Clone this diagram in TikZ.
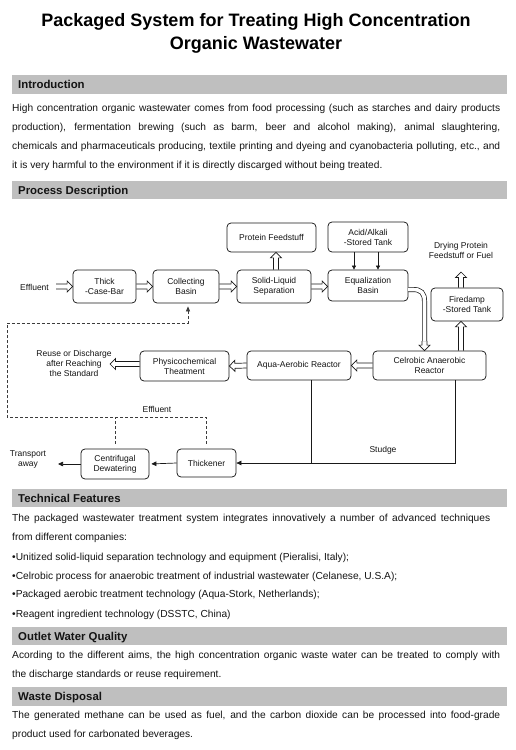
\documentclass[tikz,border=0pt]{standalone}
\usepackage{fontspec}
\setmainfont{Liberation Sans}
\usetikzlibrary{calc,arrows.meta}
\definecolor{hdr}{RGB}{191,191,191}
\definecolor{lc}{RGB}{25,25,25}
\definecolor{tc}{RGB}{20,20,20}
\def\hw{2.5pt}\def\hW{5.5pt}\def\hl{5.5pt}
\begin{document}
\begin{tikzpicture}[x=1pt,y=-1pt,
  box/.style={draw=lc, line width=0.75pt, rounded corners=4pt, align=center, text=tc,
    font=\fontsize{8.5}{10}\selectfont, inner sep=0pt},
  lbl/.style={align=center, text=tc, font=\fontsize{8.5}{10}\selectfont, inner sep=0pt},
  body/.style={anchor=base west, inner sep=0pt, text=tc, font=\fontsize{10.2}{12}\selectfont},
  hdrtxt/.style={anchor=base west, inner sep=0pt, text=tc, font=\bfseries\fontsize{11.4}{13}\selectfont},
  ttl/.style={anchor=base, inner sep=0pt, text=black, font=\bfseries\fontsize{18}{22}\selectfont},
  hollow/.style={draw=lc, line width=0.7pt, to path={
    ($(\tikztostart)!\hw!90:(\tikztotarget)$) --
    ($(\tikztotarget)!\hl!(\tikztostart)!\hw!-90:(\tikztostart)$) --
    ($(\tikztotarget)!\hl!(\tikztostart)!\hW!-90:(\tikztostart)$) --
    (\tikztotarget) --
    ($(\tikztotarget)!\hl!(\tikztostart)!\hW!90:(\tikztostart)$) --
    ($(\tikztotarget)!\hl!(\tikztostart)!\hw!90:(\tikztostart)$) --
    ($(\tikztostart)!\hw!-90:(\tikztotarget)$)}},
  dbl/.style={draw=lc, line width=0.7pt, double=white, double distance=3.6pt},
  ln/.style={draw=lc, line width=0.7pt},
  blk/.style={draw=lc, line width=0.7pt, -{Triangle[length=5pt,width=4.5pt]}},
  sblk/.style={draw=lc, line width=0.7pt, -{Triangle[length=4pt,width=4pt]}},
  dsh/.style={draw=lc!85, line width=0.7pt, dash pattern=on 3pt off 2pt}
]
\useasboundingbox[fill=white] (0,0) rectangle (516,750);

% Title
\node[ttl] (title1) at (256,26.5) {Packaged System for Treating High Concentration};
\node[ttl] (title2) at (256,49.5) {Organic Wastewater};

% Section bars
\fill[hdr] (12,75) rectangle (507,94);
\node[hdrtxt] (hintro) at (18,88.6) {Introduction};
\fill[hdr] (12,181) rectangle (507,199);
\node[hdrtxt] (hproc) at (18,194.1) {Process Description};
\fill[hdr] (12,489) rectangle (507,507);
\node[hdrtxt] (htech) at (18,502.1) {Technical Features};
\fill[hdr] (12,627) rectangle (507,645);
\node[hdrtxt] (hout) at (18,640.1) {Outlet Water Quality};
\fill[hdr] (12,687) rectangle (507,706);
\node[hdrtxt] (hwaste) at (18,700.6) {Waste Disposal};

% Introduction text
\node[body] (i1) at (12,111.5) {\makebox[488pt][s]{High concentration organic wastewater comes from food processing (such as starches and dairy products}};
\node[body] (i2) at (12,130.5) {\makebox[488pt][s]{production), fermentation brewing (such as barm, beer and alcohol making), animal slaughtering,}};
\node[body] (i3) at (12,149.5) {\makebox[488pt][s]{chemicals and pharmaceuticals producing, textile printing and dyeing and cyanobacteria polluting, etc., and}};
\node[body] (i4) at (12,168.5) {it is very harmful to the environment if it is directly discarged without being treated.};

% Technical features
\node[body] (t1) at (12,521.5) {\makebox[478pt][s]{The packaged wastewater treatment system integrates innovatively a number of advanced techniques}};
\node[body] (t2) at (12,540.5) {from different companies:};
\node[body] (t3) at (12,560) {•Unitized solid-liquid separation technology and equipment (Pieralisi, Italy);};
\node[body] (t4) at (12,579) {•Celrobic process for anaerobic treatment of industrial wastewater (Celanese, U.S.A);};
\node[body] (t5) at (12,597.5) {•Packaged aerobic treatment technology (Aqua-Stork, Netherlands);};
\node[body] (t6) at (12,617) {•Reagent ingredient technology (DSSTC, China)};

% Outlet water quality
\node[body] (o1) at (12,658.5) {\makebox[488pt][s]{Acording to the different aims, the high concentration organic waste water can be treated to comply with}};
\node[body] (o2) at (12,677.5) {the discharge standards or reuse requirement.};

% Waste disposal
\node[body] (w1) at (12,718.5) {\makebox[488pt][s]{The generated methane can be used as fuel, and the carbon dioxide can be processed into food-grade}};
\node[body] (w2) at (12,737.5) {product used for carbonated beverages.};

% ---------------- Process diagram ----------------
\node[lbl] (eff) at (34.5,287) {Effluent};
\node[box, minimum width=63pt, minimum height=33pt] (thick) at (104.5,286.5) {Thick\\-Case-Bar};
\node[box, minimum width=66pt, minimum height=33pt] (coll) at (186,286.5) {Collecting\\Basin};
\node[box, minimum width=74pt, minimum height=33pt] (solid) at (274,286.5) {Solid-Liquid\\Separation};
\node[box, minimum width=89pt, minimum height=29pt] (protein) at (271.5,237.5) {Protein Feedstuff};
\node[box, minimum width=80pt, minimum height=30pt] (acid) at (368,237) {Acid/Alkali\\-Stored Tank};
\node[box, minimum width=80pt, minimum height=31pt] (equal) at (368,285.5) {Equalization\\Basin};
\node[lbl] (drying) at (461,250) {Drying Protein\\Feedstuff or Fuel};
\node[box, minimum width=72pt, minimum height=33pt] (fire) at (467,304.5) {Firedamp\\-Stored Tank};
\node[box, minimum width=113pt, minimum height=29pt] (anaer) at (429.5,365.5) {Celrobic Anaerobic\\Reactor};
\node[box, minimum width=104pt, minimum height=29pt] (aqua) at (299,365.5) {Aqua-Aerobic Reactor};
\node[box, minimum width=89pt, minimum height=30pt] (phys) at (184.5,366) {Physicochemical\\Theatment};
\node[lbl] (reuse) at (74,363) {Reuse or Discharge\\after Reaching\\the Standard};
\node[lbl] (effl2) at (157,409) {Effluent};
\node[box, minimum width=59pt, minimum height=28pt] (thickener) at (206.5,463) {Thickener};
\node[box, minimum width=68pt, minimum height=30pt] (centri) at (115,464) {Centrifugal\\Dewatering};
\node[lbl] (transport) at (28,459) {Transport\\away};
\node[lbl] (sludge) at (383,450) {Studge};

% helper coordinates
\coordinate (effout) at (56,286.5);
\coordinate (dryin) at (461,272);
\coordinate (reusein) at (110,364);
\coordinate (eqout) at (408,289.5);
\coordinate (bend) at (424.5,341);
\coordinate (sj) at (455,463);
\coordinate (aj) at (311,463);
\coordinate (tr) at (58,464);
\coordinate (dl) at (7,417);
\coordinate (ul) at (7,323);
\coordinate (prx) at (276,0);
\coordinate (fx) at (461,0);

% hollow arrows
\draw[hollow] (effout) to (thick.west);
\draw[hollow] (thick.east) to (coll.west);
\draw[hollow] (coll.east) to (solid.west);
\draw[hollow] (solid.east) to (solid.east -| equal.west);
\draw[hollow] (solid.north -| prx) to (protein.south -| prx);
\draw[hollow] (anaer.north -| fx) to (fire.south -| fx);
\draw[hollow] (fire.north -| fx) to (dryin);
\draw[hollow] (anaer.west) to (aqua.east);
\draw[hollow] (aqua.west) to (phys.east);
\draw[hollow] (phys.west |- reusein) to (reusein);

% curved double arrow equalization -> anaerobic
\draw[dbl] (eqout) -- (413,289.5) .. controls (421,289.5) and (424.5,293) .. (424.5,301) -- (bend);
\draw[hollow] (bend) to (bend |- anaer.north);

% acid/alkali dosing
\draw[sblk] ([xshift=-14pt]acid.south) -- ([xshift=-14pt]equal.north);
\draw[sblk] ([xshift=10pt]acid.south) -- ([xshift=10pt]equal.north);

% sludge line
\draw[blk] (anaer.south -| sj) -- (sj) -- (thickener.east);
\draw[ln] (aqua.south -| aj) -- (aj);
\draw[blk, shorten >=2pt] (thickener.west) -- (centri.east);
\draw[blk] (centri.west) -- (tr);

% effluent return (dashed)
\draw[dsh, shorten <=5pt, -{Triangle[length=5pt,width=4pt]}, shorten >=3pt]
  (thickener.north) |- (dl) -- (ul) -| ([xshift=2pt]coll.south);
\draw[dsh, shorten <=5pt] (centri.north) -- (centri.north |- dl);
\end{tikzpicture}
\end{document}
